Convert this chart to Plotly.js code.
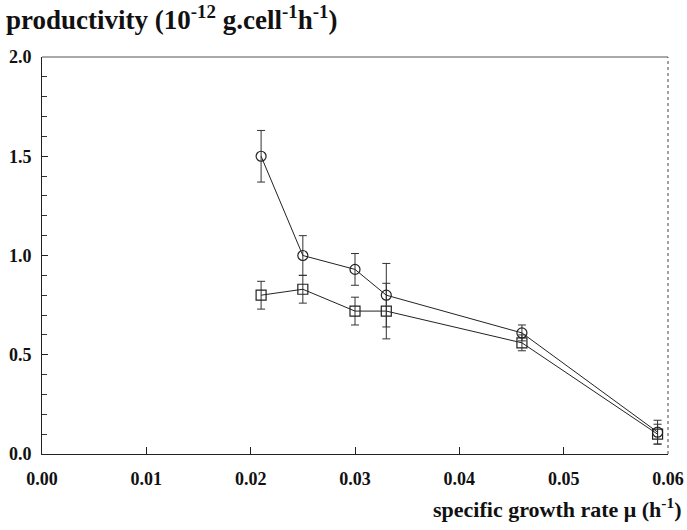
<!DOCTYPE html>
<html>
<head>
<meta charset="utf-8">
<script src="https://cdn.plot.ly/plotly-3.0.1.min.js"></script>
<style>
  html, body { margin: 0; padding: 0; background: #fff; }
  #chart { width: 687px; height: 530px; }
</style>
</head>
<body>
<div id="chart"></div>
<script>
// specific growth rate (h-1)
const growthRate = [0.021, 0.025, 0.030, 0.033, 0.046, 0.059];

// productivity, circle series (10^-12 g.cell-1 h-1) and its error
const circleValues = [1.50, 1.00, 0.93, 0.80, 0.61, 0.11];
const circleErrors = [0.13, 0.10, 0.08, 0.16, 0.04, 0.06];

// productivity, square series and its error
const squareValues = [0.80, 0.83, 0.72, 0.72, 0.56, 0.10];
const squareErrors = [0.07, 0.07, 0.07, 0.14, 0.04, 0.05];

const xTickVals = [0, 0.01, 0.02, 0.03, 0.04, 0.05, 0.06];
const xTickText = ['0.00', '0.01', '0.02', '0.03', '0.04', '0.05', '0.06'];
const yTickVals = [0, 0.5, 1.0, 1.5, 2.0];
const yTickText = ['0.0', '0.5', '1.0', '1.5', '2.0'];

const serif = 'Liberation Serif, Times New Roman, serif';

function series(y, err, symbol) {
  return {
    x: growthRate,
    y: y,
    type: 'scatter',
    mode: 'lines+markers',
    line: { color: '#222', width: 1 },
    marker: { symbol: symbol, size: 10, color: '#222', line: { width: 1.2 } },
    error_y: { type: 'data', array: err, visible: true, color: '#333', thickness: 1, width: 4 },
    showlegend: false,
    cliponaxis: false
  };
}

const data = [
  series(squareValues, squareErrors, 'square-open'),
  series(circleValues, circleErrors, 'circle-open')
];

const tickFont = { family: serif, size: 18, color: '#111', weight: 'bold' };

const layout = {
  width: 687,
  height: 530,
  margin: { l: 42, r: 19, t: 57, b: 76 },
  paper_bgcolor: '#fff',
  plot_bgcolor: '#fff',
  font: { family: serif, color: '#111' },
  xaxis: {
    range: [0, 0.06],
    tickvals: xTickVals,
    ticktext: xTickText,
    ticks: 'inside',
    ticklen: 7,
    tickwidth: 1,
    tickcolor: '#222',
    ticklabelstandoff: 8,
    showline: true,
    linecolor: '#222',
    linewidth: 1,
    showgrid: false,
    zeroline: false,
    tickfont: tickFont
  },
  yaxis: {
    range: [0, 2.0],
    tickvals: yTickVals,
    ticktext: yTickText,
    ticks: 'inside',
    ticklen: 6,
    tickwidth: 1,
    tickcolor: '#222',
    ticklabelstandoff: 6,
    minor: { dtick: 0.1, ticks: 'inside', ticklen: 5, tickcolor: '#333', tickwidth: 1 },
    showline: true,
    linecolor: '#222',
    linewidth: 1,
    showgrid: false,
    zeroline: false,
    tickfont: tickFont
  },
  shapes: [
    { type: 'line', xref: 'paper', yref: 'paper', x0: 0, x1: 1, y0: 1, y1: 1,
      line: { color: '#555', width: 1 } },
    { type: 'line', xref: 'paper', yref: 'paper', x0: 1, x1: 1, y0: 0, y1: 1,
      line: { color: '#444', width: 1, dash: 'dot' } }
  ],
  annotations: [
    { xref: 'paper', yref: 'paper', x: -0.061, y: 1.05, xanchor: 'left', yanchor: 'bottom',
      showarrow: false,
      text: 'productivity (10<sup>-12</sup> g.cell<sup>-1</sup>h<sup>-1</sup>)',
      font: { family: serif, size: 27, color: '#111', weight: 'bold' } },
    { xref: 'paper', yref: 'paper', x: 1.025, y: -0.095, xanchor: 'right', yanchor: 'top',
      showarrow: false,
      text: 'specific growth rate μ (h<sup>-1</sup>)',
      font: { family: serif, size: 22, color: '#111', weight: 'bold' } }
  ]
};

Plotly.newPlot('chart', data, layout, { displayModeBar: false, staticPlot: true });
</script>
</body>
</html>
